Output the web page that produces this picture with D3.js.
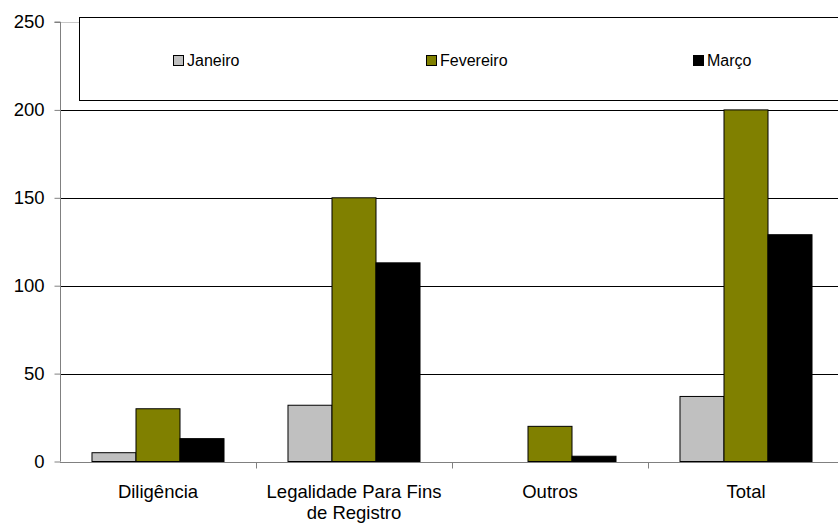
<!DOCTYPE html>
<html>
<head>
<meta charset="utf-8">
<script src="https://cdn.jsdelivr.net/npm/d3@7/dist/d3.min.js"></script>
<style>
  html, body { margin: 0; padding: 0; background: #fff; }
  svg { display: block; font-family: Arial, "Liberation Sans", sans-serif; }
</style>
</head>
<body>
<svg id="chart" width="838" height="523"></svg>
<script>
// Monthly counts per category
const categories = ["Diligência", "Legalidade Para Fins de Registro", "Outros", "Total"];
const seriesNames = ["Janeiro", "Fevereiro", "Março"];
const janeiro = [5, 32, 0, 37];
const fevereiro = [30, 150, 20, 200];
const marco = [13, 113, 3, 129];
const yTicks = [0, 50, 100, 150, 200, 250];
const seriesColors = ["#c0c0c0", "#808000", "#000000"];

const seriesValues = [janeiro, fevereiro, marco];

const svg = d3.select("#chart");
const margin = { left: 60, top: 22, bottom: 61 };
const plotRight = 844;
const height = 523;

const x = d3.scaleBand()
  .domain(categories)
  .range([margin.left, plotRight])
  .paddingInner(0)
  .paddingOuter(0);

// three bars per group, 150% gap between groups
const x1 = d3.scaleBand()
  .domain(seriesNames)
  .range([0, x.bandwidth()])
  .paddingInner(0)
  .paddingOuter(0.727);

const y = d3.scaleLinear()
  .domain([0, 250])
  .range([height - margin.bottom - 0.5, margin.top]);

// horizontal gridlines
svg.append("g")
  .selectAll("line")
  .data(yTicks.filter(d => d > 0))
  .join("line")
  .attr("x1", margin.left)
  .attr("x2", plotRight)
  .attr("y1", d => Math.round(y(d)) + 0.5)
  .attr("y2", d => Math.round(y(d)) + 0.5)
  .attr("stroke", d => d === 250 ? "#c8c8c8" : "#000")
  .attr("stroke-width", 1);

// bars
const groups = svg.append("g")
  .selectAll("g")
  .data(categories)
  .join("g")
  .attr("transform", d => `translate(${x(d)},0)`);

groups.selectAll("rect")
  .data((c, i) => seriesNames.map((s, k) => ({ s, k, v: seriesValues[k][i] })))
  .join("rect")
  .filter(d => d.v > 0)
  .attr("x", d => x1(d.s))
  .attr("width", x1.bandwidth())
  .attr("y", d => y(d.v))
  .attr("height", d => y(0) - y(d.v))
  .attr("fill", d => seriesColors[d.k])
  .attr("stroke", "#000")
  .attr("stroke-width", 1);

// y axis
const yAxis = svg.append("g")
  .attr("transform", `translate(${margin.left + 0.5},0)`)
  .call(d3.axisLeft(y).tickValues(yTicks).tickSize(6).tickPadding(10).tickFormat(d3.format("d")));
yAxis.select(".domain").attr("stroke", "#808080").attr("d", `M-6,${y(250)}H0V${y(0)}`);
yAxis.selectAll(".tick line").attr("stroke", "#808080");
yAxis.selectAll(".tick text")
  .attr("font-size", "18.5px")
  .attr("fill", "#000")
  .attr("font-family", "Arial, 'Liberation Sans', sans-serif");

// x axis baseline and category ticks
const zeroY = Math.round(y(0)) + 0.5;
svg.append("line")
  .attr("x1", margin.left).attr("x2", plotRight)
  .attr("y1", zeroY).attr("y2", zeroY)
  .attr("stroke", "#808080");
svg.append("g")
  .selectAll("line")
  .data(categories.slice(1))
  .join("line")
  .attr("x1", d => Math.round(x(d)) + 0.5)
  .attr("x2", d => Math.round(x(d)) + 0.5)
  .attr("y1", zeroY).attr("y2", zeroY + 6)
  .attr("stroke", "#808080");

// category labels, wrapped onto two lines where long
const labelLines = {
  "Diligência": ["Diligência"],
  "Legalidade Para Fins de Registro": ["Legalidade Para Fins", "de Registro"],
  "Outros": ["Outros"],
  "Total": ["Total"]
};
svg.append("g")
  .selectAll("text")
  .data(categories)
  .join("text")
  .attr("x", d => x(d) + x.bandwidth() / 2)
  .attr("y", 497.5)
  .attr("text-anchor", "middle")
  .attr("font-size", "18.5px")
  .attr("fill", "#000")
  .each(function (d) {
    d3.select(this).selectAll("tspan")
      .data(labelLines[d])
      .join("tspan")
      .attr("x", x(d) + x.bandwidth() / 2)
      .attr("dy", (t, i) => i === 0 ? 0 : 21.5)
      .text(t => t);
  });

// legend
const legend = svg.append("g");
legend.append("rect")
  .attr("x", 79.5).attr("y", 17.5)
  .attr("width", 800).attr("height", 83)
  .attr("fill", "#fff")
  .attr("stroke", "#000")
  .attr("stroke-width", 1);
const legendX = [173, 426, 693];
const items = legend.selectAll("g.item")
  .data(seriesNames)
  .join("g")
  .attr("class", "item")
  .attr("transform", (d, i) => `translate(${legendX[i]},0)`);
items.append("rect")
  .attr("x", 0.5).attr("y", 55.5)
  .attr("width", 10).attr("height", 10)
  .attr("fill", (d, i) => seriesColors[i])
  .attr("stroke", "#000");
items.append("text")
  .attr("x", 14)
  .attr("y", 65.5)
  .attr("font-size", "16px")
  .attr("fill", "#000")
  .text(d => d);
</script>
</body>
</html>
